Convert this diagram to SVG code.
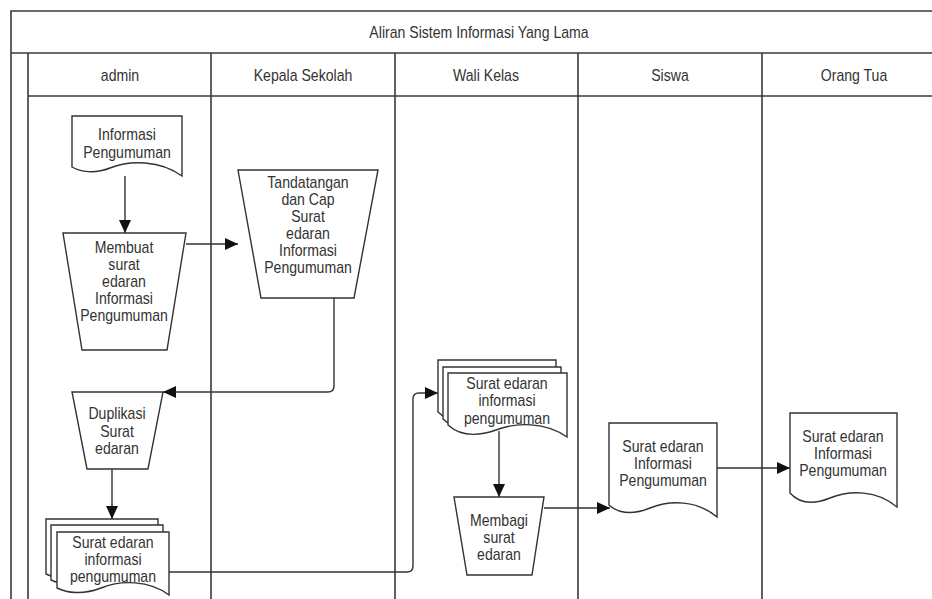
<svg xmlns="http://www.w3.org/2000/svg" width="932" height="599" viewBox="0 0 932 599">
<style>
.frame{fill:none;stroke:#3a3a3a;stroke-width:1.6}
.shape{fill:#fff;stroke:#333;stroke-width:1.4}
.conn{fill:none;stroke:#333;stroke-width:1.4}
text{font-family:"Liberation Sans Narrow","Arial Narrow","Liberation Sans",sans-serif;font-size:16px;fill:#333;text-anchor:middle;dominant-baseline:central}
</style>
<defs>
<marker id="arr" markerUnits="userSpaceOnUse" markerWidth="14" markerHeight="12" refX="13" refY="6" orient="auto">
<path d="M0,0 L13,6 L0,12 Z" fill="#111"/>
</marker>
</defs>
<rect width="932" height="599" fill="#fff"/>
<g id="frame">
<path class="frame" d="M11,599 V11 H946 M11,53 H946 M28,53 V599 M28,96 H946 M211,53 V599 M395,53 V599 M578,53 V599 M762,53 V599"/>
<text transform="translate(479,32) scale(0.88,1)">Aliran Sistem Informasi Yang Lama</text>
<text transform="translate(120,75) scale(0.88,1)">admin</text>
<text transform="translate(303,75) scale(0.88,1)">Kepala Sekolah</text>
<text transform="translate(486,75) scale(0.88,1)">Wali Kelas</text>
<text transform="translate(670,75) scale(0.88,1)">Siswa</text>
<text transform="translate(854,75) scale(0.88,1)">Orang Tua</text>
</g>
<g id="connectors">
<path class="conn" d="M125,176 V233" marker-end="url(#arr)"/>
<path class="conn" d="M186,244 H238" marker-end="url(#arr)"/>
<path class="conn" d="M334,298 V386 Q334,392 328,392 H163" marker-end="url(#arr)"/>
<path class="conn" d="M112,469 V519" marker-end="url(#arr)"/>
<path class="conn" d="M169,572 H407 Q413,572 413,566 V399 Q413,393 419,393 H438" marker-end="url(#arr)"/>
<path class="conn" d="M499,431 V497" marker-end="url(#arr)"/>
<path class="conn" d="M544,508 H610" marker-end="url(#arr)"/>
<path class="conn" d="M717,468 H790" marker-end="url(#arr)"/>
</g>
<g id="n1">
<path class="shape" d="M72,116 H182 V176 C160,160 130,160 110,168 C95,174 80,172 72,167 Z"/>
<text transform="translate(127,134) scale(0.88,1)">Informasi</text>
<text transform="translate(127,152) scale(0.88,1)">Pengumuman</text>
</g>
<g id="n2">
<path class="shape" d="M63,233 H186 L167,350 H82 Z"/>
<text transform="translate(124,247) scale(0.88,1)">Membuat</text>
<text transform="translate(124,264) scale(0.88,1)">surat</text>
<text transform="translate(124,281) scale(0.88,1)">edaran</text>
<text transform="translate(124,298) scale(0.88,1)">Informasi</text>
<text transform="translate(124,315) scale(0.88,1)">Pengumuman</text>
</g>
<g id="n3">
<path class="shape" d="M238,170 H378 L354,298 H261 Z"/>
<text transform="translate(308,182) scale(0.88,1)">Tandatangan</text>
<text transform="translate(308,199) scale(0.88,1)">dan Cap</text>
<text transform="translate(308,216) scale(0.88,1)">Surat</text>
<text transform="translate(308,233) scale(0.88,1)">edaran</text>
<text transform="translate(308,250) scale(0.88,1)">Informasi</text>
<text transform="translate(308,267) scale(0.88,1)">Pengumuman</text>
</g>
<g id="n4">
<path class="shape" d="M72,392 H163 L148,469 H87 Z"/>
<text transform="translate(117,413) scale(0.88,1)">Duplikasi</text>
<text transform="translate(117,431) scale(0.88,1)">Surat</text>
<text transform="translate(117,448) scale(0.88,1)">edaran</text>
</g>
<g id="n5">
<path class="shape" d="M46,519 H158 V581 C138,566 110,566 90,574 C72,581 56,579 46,574 Z"/>
<path class="shape" d="M51,525 H163 V587 C143,572 115,572 95,580 C77,587 61,585 51,580 Z"/>
<path class="shape" d="M57,532 H169 V595 C149,580 121,580 101,588 C83,595 67,593 57,588 Z"/>
<text transform="translate(113,542) scale(0.88,1)">Surat edaran</text>
<text transform="translate(113,559) scale(0.88,1)">informasi</text>
<text transform="translate(113,576) scale(0.88,1)">pengumuman</text>
</g>
<g id="n6">
<path class="shape" d="M438,360 H556 V424 C535,409 505,409 485,417 C465,424 448,422 438,412 Z"/>
<path class="shape" d="M443,367 H561 V431 C540,416 510,416 490,424 C470,431 453,429 443,419 Z"/>
<path class="shape" d="M448,373 H567 V437 C546,422 516,422 496,430 C476,437 459,435 448,425 Z"/>
<text transform="translate(507,383) scale(0.88,1)">Surat edaran</text>
<text transform="translate(507,400) scale(0.88,1)">informasi</text>
<text transform="translate(507,418) scale(0.88,1)">pengumuman</text>
</g>
<g id="n7">
<path class="shape" d="M454,497 H544 L532,575 H467 Z"/>
<text transform="translate(499,520) scale(0.88,1)">Membagi</text>
<text transform="translate(499,537) scale(0.88,1)">surat</text>
<text transform="translate(499,554) scale(0.88,1)">edaran</text>
</g>
<g id="n8">
<path class="shape" d="M609,423 H717 V517 C697,500 670,500 650,508 C630,516 618,513 609,505 Z"/>
<text transform="translate(663,446) scale(0.88,1)">Surat edaran</text>
<text transform="translate(663,463) scale(0.88,1)">Informasi</text>
<text transform="translate(663,480) scale(0.88,1)">Pengumuman</text>
</g>
<g id="n9">
<path class="shape" d="M790,413 H897 V507 C877,490 850,490 830,498 C810,506 798,502 790,493 Z"/>
<text transform="translate(843,436) scale(0.88,1)">Surat edaran</text>
<text transform="translate(843,453) scale(0.88,1)">Informasi</text>
<text transform="translate(843,470) scale(0.88,1)">Pengumuman</text>
</g>
</svg>
